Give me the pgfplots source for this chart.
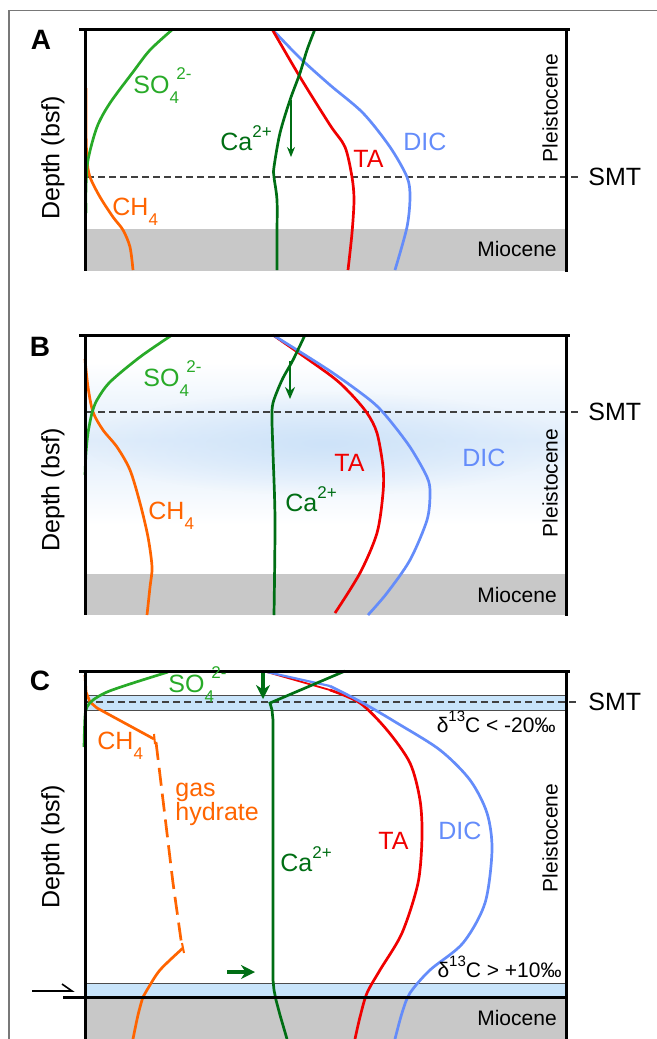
\documentclass[border=0pt]{standalone}
\usepackage{pgfplots}
\pgfplotsset{compat=1.18}
\usepackage{fontspec}
\setmainfont{Liberation Sans}
\usetikzlibrary{arrows.meta,fadings}
\definecolor{so4}{RGB}{40,170,40}
\definecolor{ca}{RGB}{0,110,20}
\definecolor{ch4}{RGB}{255,100,0}
\definecolor{ta}{RGB}{240,0,0}
\definecolor{dic}{RGB}{100,140,250}
\definecolor{sed}{RGB}{200,200,200}
\definecolor{band}{RGB}{200,228,250}
\definecolor{glow}{RGB}{224,237,251}
\definecolor{glowcore}{RGB}{206,227,249}
\definecolor{frame}{RGB}{120,120,120}
\tikzfading[name=glowfade, inner color=transparent!0, outer color=transparent!100]
\newcommand{\lab}{\fontsize{12.5}{14}\selectfont}
\newcommand{\panlab}{\fontsize{14}{16}\selectfont\bfseries}
\newcommand{\sml}{\fontsize{10.5}{12}\selectfont}
\newcommand{\SOf}{SO\raisebox{-0.42em}{\fontsize{8.5}{9}\selectfont 4}\hspace{-0.1em}\raisebox{0.55em}{\fontsize{8.5}{9}\selectfont 2-}}
\newcommand{\CHf}{CH\raisebox{-0.42em}{\fontsize{8.5}{9}\selectfont 4}}
\newcommand{\Ca}{Ca\raisebox{0.5em}{\fontsize{8.5}{9}\selectfont 2+}}
\newcommand{\dC}{δ\raisebox{0.5em}{\fontsize{7.5}{8}\selectfont 13}C}
\pgfplotsset{panel/.style={width=240.5pt, scale only axis, xmin=85, xmax=566,
  y dir=reverse, axis lines=none, clip=false, anchor=north west},
  curve/.style={line width=1.35pt, smooth, no markers},
  pline/.style={line width=1.35pt, no markers},
  ax/.style={black, line width=1.5pt, no markers},
  smt/.style={black!75, line width=0.6pt, dash pattern=on 3.5pt off 2pt, no markers}}
\begin{document}
\begin{tikzpicture}
\useasboundingbox (0,0) rectangle (328.5pt,-519.5pt);
% ---------------- Panel A
\begin{axis}[panel, at={(42.5pt,-14.5pt)}, height=121pt, ymin=29, ymax=271]
\addplot[frame, line width=0.6pt, no markers] coordinates {(9,1039) (9,10.5) (657,10.5)};
\addplot[fill=sed, draw=none] coordinates {(85,229) (566,229) (566,271) (85,271)};
\addplot[smt] coordinates {(87,177) (578,177)};
\addplot[curve, dic] coordinates {(272,29) (300,58) (330,85) (363,113) (390,147) (407,177) (410,197) (407,227) (395,270)};
\addplot[curve, ta] coordinates {(272,29) (300,77) (330,125) (345,147) (352,177) (354,200) (352,233) (348,270)};
\addplot[curve, ca] coordinates {(315,29) (307,50) (300,73) (290,100) (280,133) (274,167) (274,177) (277,200) (277,235) (277,270)};
\addplot[curve, ch4] coordinates {(86,88) (86,130) (87,160) (90,177) (100,197) (113,217) (123,230) (130,247) (133,270)};
\addplot[curve, so4] coordinates {(173,29) (150,50) (133,72) (110,103) (97,127) (88,160) (86,187) (86,213)};
\addplot[ca, line width=0.7pt, -{Stealth[length=5pt,width=4pt]}, no markers] coordinates {(291,100) (291,157)};
\addplot[ax] coordinates {(79,29) (570,29)};
\addplot[ax] coordinates {(85,29) (85,271)};
\addplot[ax] coordinates {(566,29) (566,272)};
\node[font=\panlab] at (axis cs:41,40) {A};
\node[font=\lab, rotate=90] at (axis cs:53,158) {Depth (bsf)};
\node[font=\lab, anchor=base west, text=so4, inner sep=0pt] at (axis cs:133,93) {\SOf};
\node[font=\lab, anchor=base west, text=ch4, inner sep=0pt] at (axis cs:112,215) {\CHf};
\node[font=\lab, anchor=base west, text=ca, inner sep=0pt] at (axis cs:220,150) {\Ca};
\node[font=\lab, anchor=base west, text=ta, inner sep=0pt] at (axis cs:353,167) {TA};
\node[font=\lab, anchor=base west, text=dic, inner sep=0pt] at (axis cs:403,150) {DIC};
\node[font=\sml, rotate=90] at (axis cs:550,108) {Pleistocene};
\node[font=\lab, anchor=west, inner sep=0pt] at (axis cs:588,177) {SMT};
\node[font=\sml] at (axis cs:517,249) {Miocene};
\end{axis}
% ---------------- Panel B
\begin{axis}[panel, at={(42.5pt,-167.5pt)}, height=140pt, ymin=335, ymax=615]
\addplot[draw=none, top color=white, bottom color=glow] coordinates {(86,362) (565,362) (565,440) (86,440)};
\addplot[draw=none, top color=glow, bottom color=white] coordinates {(86,440) (565,440) (565,525) (86,525)};
\addplot[draw=none, fill=glowcore, path fading=glowfade] coordinates {(86,392) (565,392) (565,495) (86,495)};
\addplot[fill=sed, draw=none] coordinates {(85,574) (566,574) (566,615) (85,615)};
\addplot[smt] coordinates {(87,412) (578,412)};
\addplot[curve, ta] coordinates {(273,335) (330,375) (350,393) (367,413) (377,433) (383,467) (383,493) (377,533) (360,573) (335,613)};
\addplot[curve, dic] coordinates {(273,335) (330,371) (370,400) (387,417) (410,447) (427,477) (430,493) (427,520) (410,560) (387,593) (368,615)};
\addplot[curve, ca] coordinates {(305,335) (293,360) (282,380) (273,403) (272,420) (273,453) (275,520) (274,615)};
\addplot[curve, ch4] coordinates {(85,359) (88,387) (93,412) (103,430) (117,447) (130,470) (140,503) (148,537) (152,567) (150,587) (147,615)};
\addplot[curve, so4] coordinates {(172,335) (140,357) (110,382) (97,400) (92,413) (88,433) (86,453) (85,475)};
\addplot[ca, line width=1pt, -{Stealth[length=6pt,width=5pt]}, no markers] coordinates {(290,361) (290,399)};
\addplot[ax] coordinates {(79,335) (570,335)};
\addplot[ax] coordinates {(85,335) (85,615)};
\addplot[ax] coordinates {(566,335) (566,616)};
\node[font=\panlab] at (axis cs:40,347) {B};
\node[font=\lab, rotate=90] at (axis cs:53,490) {Depth (bsf)};
\node[font=\lab, anchor=base west, text=so4, inner sep=0pt] at (axis cs:143,386) {\SOf};
\node[font=\lab, anchor=base west, text=ch4, inner sep=0pt] at (axis cs:148,519) {\CHf};
\node[font=\lab, anchor=base west, text=ca, inner sep=0pt] at (axis cs:285,511) {\Ca};
\node[font=\lab, anchor=base west, text=ta, inner sep=0pt] at (axis cs:334,471) {TA};
\node[font=\lab, anchor=base west, text=dic, inner sep=0pt] at (axis cs:462,466) {DIC};
\node[font=\sml, rotate=90] at (axis cs:550,483) {Pleistocene};
\node[font=\lab, anchor=west, inner sep=0pt] at (axis cs:588,412) {SMT};
\node[font=\sml] at (axis cs:517,595) {Miocene};
\end{axis}
% ---------------- Panel C
\begin{axis}[panel, at={(42.5pt,-335.5pt)}, height=184pt, ymin=671, ymax=1039]
\addplot[fill=band, draw=black!70, line width=0.5pt] coordinates {(85,695) (566,695) (566,710) (85,710) (85,695)};
\addplot[fill=band, draw=black!70, line width=0.5pt] coordinates {(85,983) (566,983) (566,997) (85,997) (85,983)};
\addplot[fill=sed, draw=none] coordinates {(85,997) (566,997) (566,1039) (85,1039)};
\addplot[smt] coordinates {(85,702) (578,702)};
\addplot[ta, line width=0.9pt, no markers] coordinates {(267,672) (330,690)};
\addplot[curve, ta] coordinates {(330,690) (360,703) (387,730) (410,763) (420,800) (422,837) (418,883) (402,933) (380,970) (367,993) (360,1017) (355,1039)};
\addplot[dic, line width=1.1pt, no markers] coordinates {(267,672) (330,686)};
\addplot[curve, dic] coordinates {(330,686) (363,703) (397,723) (440,750) (470,780) (487,813) (492,850) (485,903) (463,943) (430,970) (410,993) (402,1013) (395,1039)};
\addplot[pline, ca] coordinates {(345,671) (270,703) (272,710) (273,720) (273,980) (274,990) (276,1000) (280,1015) (287,1039)};
\addplot[pline, ch4] coordinates {(85,675) (86,692) (90,702) (97,708) (154,739)};
\addplot[pline, ch4, dash pattern=on 9pt off 4pt] coordinates {(156,742) (163,800) (173,883) (182,947)};
\addplot[curve, ch4] coordinates {(183,948) (160,970) (147,990) (143,997) (138,1015) (133,1039)};
\addplot[ch4, line width=1pt, no markers] coordinates {(154,734) (155,744)};
\addplot[ch4, line width=1pt, no markers] coordinates {(182,943) (184,953)};
\addplot[curve, so4] coordinates {(168,672) (133,683) (107,692) (93,700) (87,707) (85,717) (84,747)};
\addplot[ca, line width=1.6pt, -{Stealth[length=7pt,width=7pt]}, no markers] coordinates {(263,671) (263,699)};
\addplot[ca, line width=1.6pt, -{Stealth[length=7pt,width=7pt]}, no markers] coordinates {(227,972) (255,972)};
\addplot[black, line width=0.8pt, no markers] coordinates {(32,991) (72,991) (62,984)};
\addplot[ax] coordinates {(63,997) (566,997)};
\addplot[ax] coordinates {(79,671) (570,671)};
\addplot[ax] coordinates {(85,671) (85,1039)};
\addplot[ax] coordinates {(566,671) (566,1039)};
\node[font=\panlab] at (axis cs:40,681) {C};
\node[font=\lab, rotate=90] at (axis cs:53,847) {Depth (bsf)};
\node[font=\lab, anchor=base west, text=so4, inner sep=0pt] at (axis cs:168,692) {\SOf};
\node[font=\lab, anchor=base west, text=ch4, inner sep=0pt] at (axis cs:97,749) {\CHf};
\node[font=\lab, anchor=base west, text=ch4, inner sep=0pt] at (axis cs:175,796) {gas};
\node[font=\lab, anchor=base west, text=ch4, inner sep=0pt] at (axis cs:175,820) {hydrate};
\node[font=\lab, anchor=base west, text=ca, inner sep=0pt] at (axis cs:280,871) {\Ca};
\node[font=\lab, anchor=base west, text=ta, inner sep=0pt] at (axis cs:378,849) {TA};
\node[font=\lab, anchor=base west, text=dic, inner sep=0pt] at (axis cs:438,839) {DIC};
\node[font=\sml, anchor=base east, inner sep=0pt] at (axis cs:556,732) {\dC\ < -20‰};
\node[font=\sml, anchor=base east, inner sep=0pt] at (axis cs:562,977) {\dC\ > +10‰};
\node[font=\sml, rotate=90] at (axis cs:550,838) {Pleistocene};
\node[font=\lab, anchor=west, inner sep=0pt] at (axis cs:588,702) {SMT};
\node[font=\sml] at (axis cs:517,1018) {Miocene};
\end{axis}
\end{tikzpicture}
\end{document}
